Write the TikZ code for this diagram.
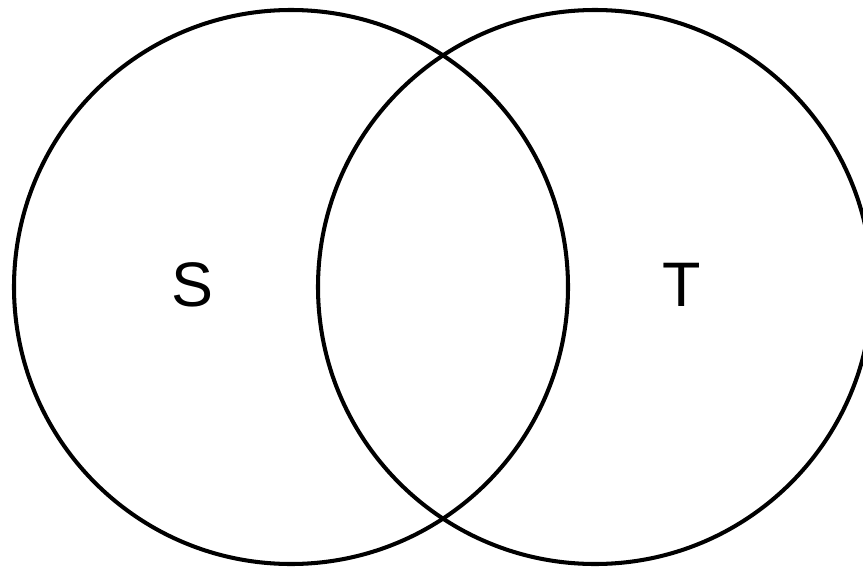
\documentclass[tikz,border=0pt]{standalone}
\usepackage{fontspec}
\setmainfont{Liberation Sans}
\usetikzlibrary{positioning}

\begin{document}
\begin{tikzpicture}[
        font=\fontsize{17.9}{21}\selectfont,
        setcirc/.style={circle, draw=black, line width=1.15pt, inner sep=0pt,
                        minimum size=5.54cm},
        setname/.style={inner sep=0pt, anchor=center},
    ]
        \useasboundingbox (0,0) rectangle (8.63,5.68);
        \node[setcirc] (setS) at (2.91,2.81) {};
        \node[setcirc] (setT) at (5.95,2.81) {};
        \node[setname] (labS) at (1.92,2.83) {S};
        \node[setname] (labT) at (6.82,2.83) {T};
    \end{tikzpicture}
\end{document}
